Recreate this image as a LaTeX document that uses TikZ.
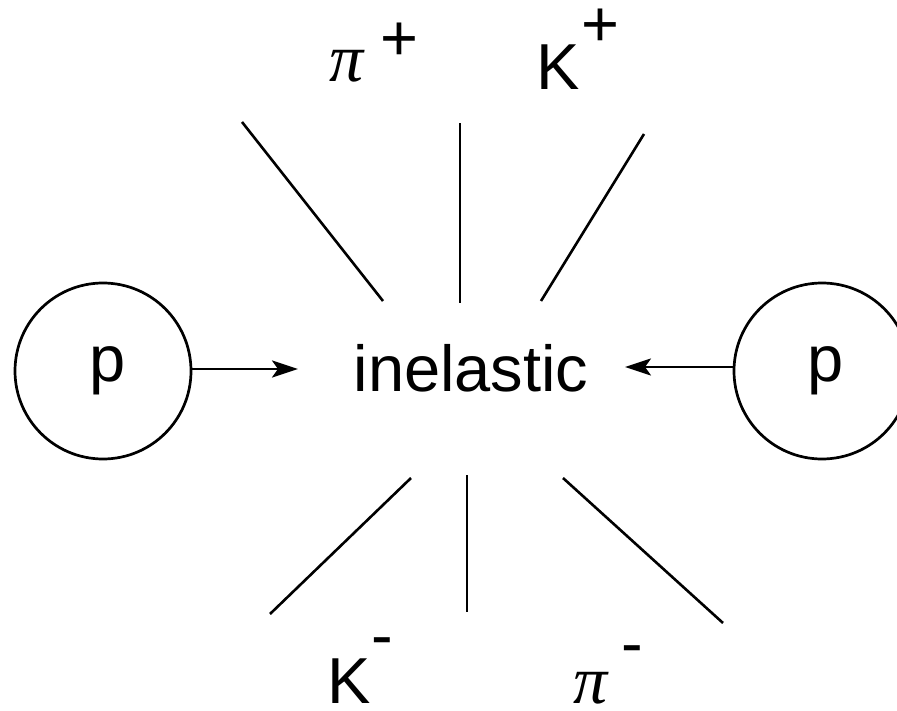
\documentclass[tikz,border=0pt]{standalone}
\usepackage{fontspec}
\setmainfont{Liberation Sans}
\newfontfamily\grkfont{Liberation Serif}
\usetikzlibrary{arrows.meta,positioning}

\begin{document}
\begin{tikzpicture}[x=1pt,y=-1pt,
  txt/.style={font=\fontsize{65}{78}\selectfont,inner sep=0pt},
  grk/.style={font=\fontsize{68}{78}\selectfont\grkfont\itshape,inner sep=0pt},
  proton/.style={txt,circle,draw,line width=2.7pt,minimum size=176pt},
  jet/.style={line width=2.6pt},
  beam/.style={line width=2.6pt,-{Stealth[length=26pt,width=17pt,inset=6pt]}}]
  \useasboundingbox (0,0) rectangle (897,711);
  \node[txt,anchor=base] (inel) at (471,391) {inelastic};
  \node[proton] (pL) at (103,371) {\hspace{10pt}p};
  \node[proton] (pR) at (822,371) {\hspace{8pt}p};
  \coordinate (tipL) at (298,369);
  \coordinate (tipR) at (625,367);
  \draw[beam] (tipL -| pL.east) -- (tipL);
  \draw[beam] (tipR -| pR.west) -- (tipR);
  % outgoing tracks
  \foreach \xa/\ya/\xb/\yb [count=\i] in {383/301/242/122, 460/303/460/123,
      541/301/644/134, 411/478/270/614, 467/475/467/612, 563/478/723/623} {
    \coordinate (in\i) at (\xa,\ya);
    \coordinate (out\i) at (\xb,\yb);
    \draw[jet] (in\i) -- (out\i);
  }
  % particle labels
  \node[grk,anchor=base] (piP) at (347,82) {π};
  \node[txt,anchor=base] (piPs) at (399,61) {+};
  \node[txt,anchor=base] (kP) at (558,90) {K};
  \node[txt,anchor=base] (kPs) at (600,47) {+};
  \node[txt,anchor=base] (kM) at (349,703) {K};
  \node[txt,anchor=base] (kMs) at (382,657) {-};
  \node[grk,anchor=base] (piM) at (591,703) {π};
  \node[txt,anchor=base] (piMs) at (632,665) {-};
\end{tikzpicture}
\end{document}
